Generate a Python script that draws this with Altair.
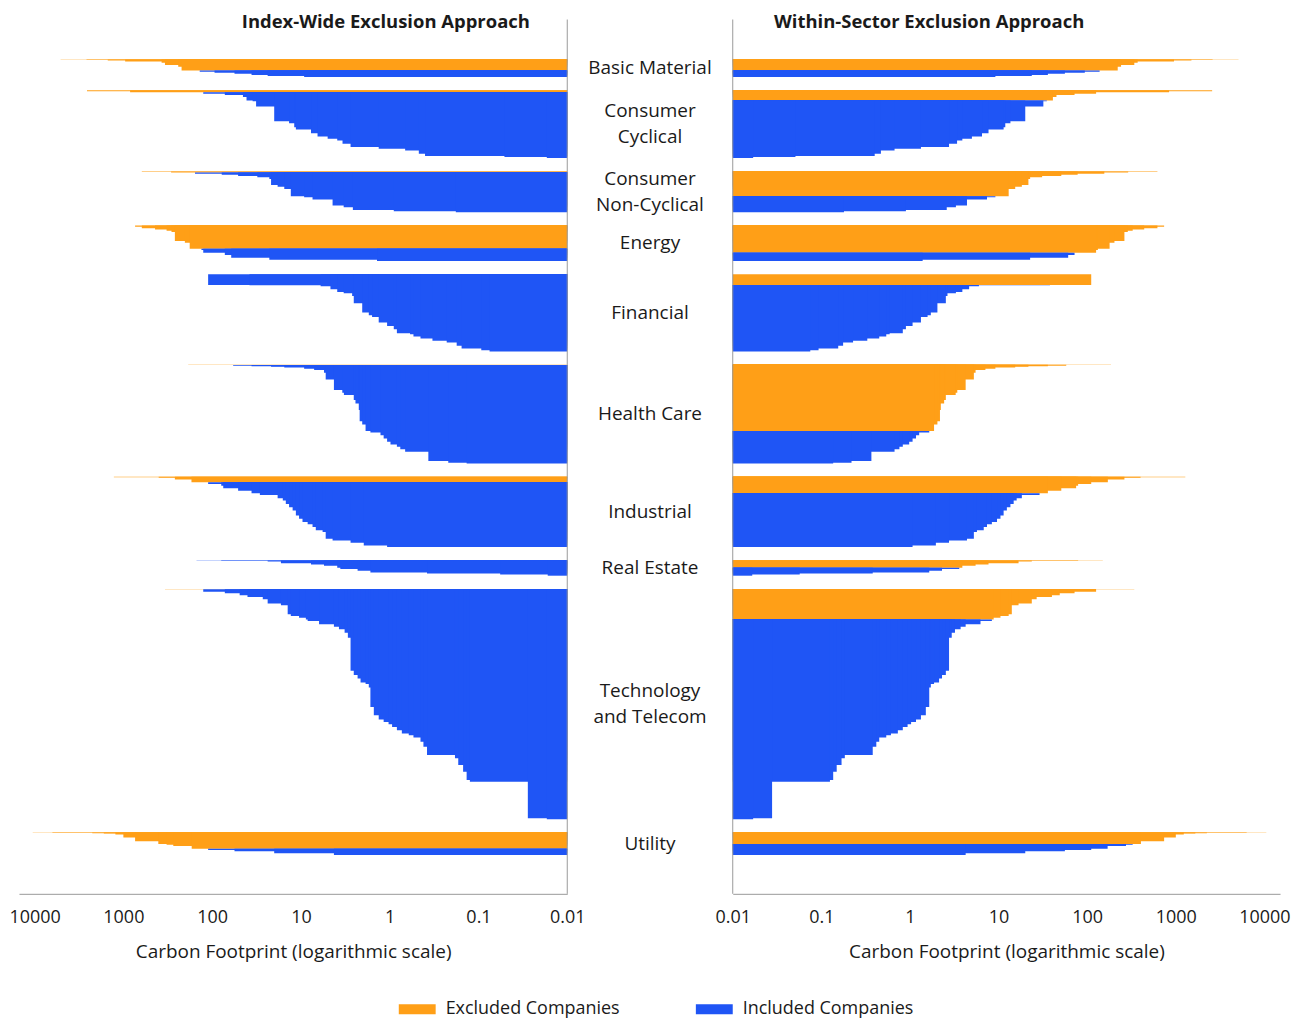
import altair as alt
import pandas as pd

ORANGE = "#FF9F17"
BLUE = "#1F55F5"
FONT = "Open Sans"
TEXT = "#1a1a1a"
AXIS = "#9a9a9a"

SECTORS = ["Basic Material", "Consumer Cyclical", "Consumer Non-Cyclical", "Energy",
           "Financial", "Health Care", "Industrial", "Real Estate",
           "Technology and Telecom", "Utility"]
LABELS = ["Basic Material", "Consumer\nCyclical", "Consumer\nNon-Cyclical", "Energy",
          "Financial", "Health Care", "Industrial", "Real Estate",
          "Technology\nand Telecom", "Utility"]

# Carbon footprint of companies (sorted, highest first) and their weight in the index
basic_values = [5100, 2600, 1500, 955, 371, 340, 241, 221, 138, 94, 56, 36, 23.7, 9.2]
basic_weights = [0.3, 0.35, 0.35, 1.0, 1.3, 2.3, 1.7, 3.7, 1.3, 1.0, 1.0, 1.3, 1.0, 1.0]

cyc_values = [2570, 840, 126, 72, 45, 41, 35, 32, 20, 13.6, 11.9, 11.4, 7.7, 6.5, 5.0,
              3.9, 3.4, 2.76, 1.33, 0.67, 0.47, 0.40, 0.051, 0.017]
cyc_weights = [1.0, 1.0, 1.3, 1.3, 2.0, 3.7, 0.7, 5.3, 14.7, 2.0, 4.0, 2.3, 3.7, 3.3, 2.3,
               1.7, 3.3, 3.3, 1.7, 1.7, 3.3, 2.3, 1.0, 1.0]

noncyc_values = [620, 290, 156, 78, 51, 31, 22.7, 21.7, 18.3, 15.4, 13, 9.2, 7.4, 4.4,
                 3.3, 2.6, 0.90, 0.18]
noncyc_weights = [0.5, 0.5, 1.3, 1.0, 1.3, 1.3, 1.7, 6.0, 1.7, 2.3, 7.3, 1.0, 2.3, 6.0,
                  1.7, 2.7, 1.3, 1.0]

energy_values = [738, 620, 440, 326, 287, 263, 203, 179, 132, 126, 72, 61, 22.7, 1.39]
energy_weights = [1.3, 1.3, 1.3, 1.3, 1.3, 9.0, 1.7, 6.0, 1.3, 2.7, 2.3, 2.7, 2.0, 1.3]

fin_values = [111, 38, 6.0, 4.65, 3.9, 3.3, 2.65, 2.54, 2.04, 1.72, 1.58, 1.33, 1.07,
              0.90, 0.83, 0.59, 0.54, 0.45, 0.33, 0.228, 0.176, 0.155, 0.093, 0.075]
fin_weights = [10.7, 0.3, 1.0, 3.0, 2.7, 1.3, 2.7, 7.3, 9.3, 2.7, 1.7, 5.7, 3.3,
               3.3, 4.0, 1.0, 2.3, 2.0, 2.3, 1.7, 3.3, 2.7, 1.7, 1.3]

health_values = [186, 58, 36, 21.7, 15.4, 9.2, 7.1, 5.5, 5.26, 4.25, 3.42, 3.28, 2.54,
                 2.43, 2.23, 2.18, 2.04, 1.87, 1.65, 1.27, 1.17, 1.07, 0.98, 0.83, 0.76,
                 0.67, 0.367, 0.219, 0.136]
health_weights = [0.3, 0.7, 0.5, 0.5, 0.7, 1.3, 1.3, 2.7, 6.7, 10.7, 2.7, 2.3, 5.0,
                  3.3, 6.7, 11.3, 3.3, 6.3, 1.7, 2.7, 3.3, 3.3, 2.7, 2.3, 2.3,
                  2.7, 9.3, 1.7, 0.7]

ind_values = [1280, 400, 263, 171, 111, 79, 75, 51, 36, 29, 18.3, 16, 14.8, 13.6, 12.4,
              11.4, 10.5, 9.6, 8.4, 7.4, 6.8, 5.7, 5.26, 4.4, 2.76, 1.96, 1.07]
ind_weights = [0.5, 0.5, 1.7, 2.7, 1.7, 1.7, 2.7, 2.3, 2.7, 1.7, 3.3, 2.3, 3.3, 3.3, 3.3,
               5.0, 3.3, 3.3, 2.3, 2.7, 3.3, 1.7, 6.7, 1.7, 2.3, 2.7, 1.7]

re_values = [150, 79, 23.7, 16.8, 7.7, 5.5, 3.9, 3.6, 2.3, 1.65, 0.38, 0.057, 0.0166]
re_weights = [0.2, 0.3, 0.5, 1.7, 1.3, 1.3, 2.0, 1.3, 1.7, 1.7, 1.0, 1.0, 1.3]

tech_values = [340, 126, 72, 49, 40, 26.9, 23.7, 16.8, 14.1, 13, 10.5, 8.8,
               8.4, 6.25, 4.25, 3.73, 3.22, 2.96, 2.76, 2.54, 2.3, 2.13, 1.87, 1.72, 1.65,
               1.51, 1.33, 1.17, 1.03, 0.94, 0.83, 0.73, 0.61, 0.54, 0.45, 0.417, 0.38,
               0.184, 0.169, 0.149, 0.136, 0.125, 0.0278, 0.017]
tech_weights = [0.3, 2.3, 1.7, 2.0, 1.7, 2.3, 4.3, 1.7, 9.0, 1.7, 1.7, 1.7,
                1.7, 3.3, 2.3, 2.7, 3.3, 5.0, 33.3, 4.3, 3.3, 4.0, 1.7, 3.3, 19.7,
                8.3, 4.3, 2.3, 2.3, 2.7, 3.3, 3.3, 1.7, 2.3, 4.3, 5.0, 8.3,
                3.3, 6.7, 6.7, 8.3, 1.7, 36.7, 1.0]

util_values = [10500, 6300, 2240, 1660, 1230, 1000, 738, 404, 326, 274, 170, 111, 56, 20, 4.25]
util_weights = [0.2, 0.2, 0.3, 0.3, 1.0, 3.0, 3.7, 2.7, 0.7, 1.3, 2.7, 1.3, 1.3, 2.0, 1.7]

# number of highest-footprint companies excluded in the within-sector approach
WITHIN_EXCLUDED = [8, 6, 11, 10, 1, 18, 9, 7, 12, 8]
# footprint above which a company is excluded in the index-wide approach
INDEX_CUTOFF = 163

SECTOR_VALUES = [basic_values, cyc_values, noncyc_values, energy_values, fin_values,
                 health_values, ind_values, re_values, tech_values, util_values]
SECTOR_WEIGHTS = [basic_weights, cyc_weights, noncyc_weights, energy_weights, fin_weights,
                  health_weights, ind_weights, re_weights, tech_weights, util_weights]

GAP = 13.4
EXC, INC = "Excluded Companies", "Included Companies"

rows, centers = [], []
pos = 0.0
for sector, vals, wts, n_in in zip(SECTORS, SECTOR_VALUES, SECTOR_WEIGHTS, WITHIN_EXCLUDED):
    start = pos
    for k, (v, w) in enumerate(zip(vals, wts)):
        rows.append({"sector": sector, "value": v, "y0": pos, "y1": pos + w,
                     "within": EXC if k < n_in else INC,
                     "index": EXC if v > INDEX_CUTOFF else INC})
        pos += w
    centers.append((start + pos) / 2)
    pos += GAP
total = pos - GAP
df = pd.DataFrame(rows)


def panel(col):
    d = df.copy()
    d["group"] = d[col]
    run = ((d["group"] != d["group"].shift()) | (d["sector"] != d["sector"].shift())).cumsum()
    d["ystart"] = d.groupby(run)["y0"].transform("min")
    return d[["sector", "value", "ystart", "y1", "group"]]


H = 887
W_LEFT, W_MID, W_RIGHT = 550, 166, 549
yscale = alt.Scale(domain=[-50, total + 39], reverse=True, nice=False, zero=False)

color = alt.Color(
    "group:N",
    scale=alt.Scale(domain=[EXC, INC], range=[ORANGE, BLUE]),
    legend=alt.Legend(title=None, orient="none", legendX=381, legendY=984,
                      direction="horizontal", symbolType="M-1,-0.27H1V0.27H-1Z",
                      symbolSize=1369, symbolStrokeWidth=0, symbolOpacity=1,
                      labelFontSize=18, labelFont=FONT, labelColor=TEXT,
                      labelOffset=10, columnPadding=76, labelLimit=400),
)

TICKS = [10000, 1000, 100, 10, 1, 0.1, 0.01]


def xaxis():
    return alt.Axis(values=TICKS, format="~g", grid=False, ticks=False, domainColor=AXIS,
                    labelFontSize=18, labelFont=FONT, labelColor=TEXT, labelPadding=15,
                    labelFlush=False, title="Carbon Footprint (logarithmic scale)",
                    titleFont=FONT, titleFontSize=19, titleFontWeight="normal",
                    titleColor=TEXT, titlePadding=16)


def bars(col, reverse, width):
    return alt.Chart(panel(col)).mark_rect().encode(
        x=alt.X("value:Q", scale=alt.Scale(type="log", domain=[0.01, 15000], reverse=reverse,
                                           nice=False), axis=xaxis()),
        x2=alt.datum(0.01),
        y=alt.Y("ystart:Q", scale=yscale, axis=None),
        y2="y1:Q",
        color=color,
    ).properties(width=width, height=H)


def axis_line(xpos):
    return alt.Chart(pd.DataFrame({"a": [0]})).mark_rule(color=AXIS, strokeWidth=1).encode(
        x=alt.value(xpos), y=alt.value(10), y2=alt.value(H))


def title(text, xpos):
    return alt.Chart(pd.DataFrame({"t": [text]})).mark_text(
        font=FONT, fontSize=18.5, fontWeight="bold", color=TEXT, align="center",
        baseline="middle").encode(text="t:N", x=alt.value(xpos), y=alt.value(12))


left = alt.layer(bars("index", True, W_LEFT), axis_line(W_LEFT),
                 title("Index-Wide Exclusion Approach", 368)).properties(width=W_LEFT, height=H)
right = alt.layer(bars("within", False, W_RIGHT), axis_line(0),
                  title("Within-Sector Exclusion Approach", 197)).properties(width=W_RIGHT, height=H)

labels_df = pd.DataFrame({"label": LABELS, "center": centers,
                          "lines": [lab.count("\n") + 1 for lab in LABELS]})


def sector_text(n_lines, dy):
    return alt.Chart(labels_df).transform_filter(
        alt.datum.lines == n_lines
    ).mark_text(
        font=FONT, fontSize=19, color=TEXT, lineBreak="\n", lineHeight=26,
        align="center", baseline="middle", dy=dy).encode(
        y=alt.Y("center:Q", scale=yscale, axis=None),
        x=alt.value(W_MID / 2),
        text="label:N",
    )


middle = alt.layer(sector_text(1, 0), sector_text(2, -13)).properties(width=W_MID, height=H)

chart = alt.hconcat(left, middle, right, spacing=0, bounds="flush").resolve_scale(
    color="shared", x="independent", y="independent"
).properties(
    padding={"left": 0, "top": 0, "right": 0, "bottom": 0}
).configure_view(stroke=None)

chart.save("out.html", embed_options={"renderer": "svg", "actions": False})
